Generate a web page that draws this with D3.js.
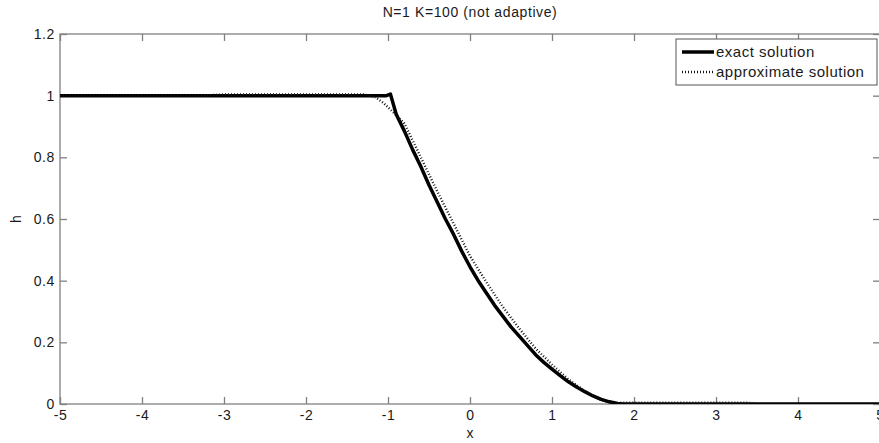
<!DOCTYPE html>
<html>
<head>
<meta charset="utf-8">
<script src="https://cdn.jsdelivr.net/npm/d3@7"></script>
<style>
  body { margin: 0; background: #fff; }
  svg text { font-family: "Liberation Sans", Arial, sans-serif; fill: #1a1a1a; }
</style>
</head>
<body>
<svg id="chart" width="879" height="443"></svg>
<script>
// values
var exactX = [-5, -1.02, -0.97, -0.9, -0.8, -0.7, -0.6, -0.5, -0.4, -0.3, -0.2, -0.1, 0, 0.1, 0.2, 0.3, 0.4, 0.5, 0.6, 0.7, 0.8, 0.9, 1.0, 1.1, 1.2, 1.3, 1.4, 1.5, 1.6, 1.7, 1.8, 1.87, 5];
var exactH = [1, 1, 1.005, 0.94, 0.885, 0.825, 0.77, 0.71, 0.655, 0.6, 0.55, 0.495, 0.445, 0.4, 0.36, 0.32, 0.285, 0.25, 0.22, 0.19, 0.16, 0.135, 0.113, 0.092, 0.072, 0.055, 0.04, 0.026, 0.015, 0.007, 0.002, 0, 0];

var approxX = [-5, -3.3, -3.0, -1.3, -1.15, -1.05, -0.95, -0.8, -0.6, -0.4, -0.2, 0, 0.2, 0.4, 0.6, 0.8, 1.0, 1.2, 1.4, 1.6, 1.75, 1.85, 3.4, 3.5, 5];
var approxH = [1, 1, 1.004, 1.004, 0.995, 0.975, 0.95, 0.91, 0.8, 0.69, 0.585, 0.48, 0.395, 0.315, 0.245, 0.18, 0.128, 0.08, 0.042, 0.012, 0.002, 0.004, 0.004, 0, 0];

var xTicks = [-5, -4, -3, -2, -1, 0, 1, 2, 3, 4, 5];
var yTicks = [0, 0.2, 0.4, 0.6, 0.8, 1, 1.2];

var titleText = "N=1 K=100 (not adaptive)";
var seriesNames = ["exact solution", "approximate solution"];

var margin = {left: 60, right: 880, top: 34, bottom: 404};
var axisColor = "#808080";

var svg = d3.select("#chart");

var x = d3.scaleLinear().domain([-5, 5]).range([margin.left, margin.right]);
var y = d3.scaleLinear().domain([0, 1.2]).range([margin.bottom, margin.top]);

// plain hyphen like matlab, not the unicode minus
function fmt(d) { return String(d); }

// box around the plot
svg.append("rect")
    .attr("x", margin.left)
    .attr("y", margin.top)
    .attr("width", margin.right - margin.left)
    .attr("height", margin.bottom - margin.top)
    .attr("fill", "none")
    .attr("stroke", axisColor)
    .attr("stroke-width", 1.3);

// axes with inward ticks, mirrored on top / right
var xAxis = d3.axisBottom(x).tickValues(xTicks).tickSize(-7).tickPadding(6).tickFormat(fmt);
var gx = svg.append("g").attr("transform", "translate(0," + margin.bottom + ")").call(xAxis);

var xTop = d3.axisTop(x).tickValues(xTicks).tickSize(-7).tickFormat("");
var gxt = svg.append("g").attr("transform", "translate(0," + margin.top + ")").call(xTop);

var yAxis = d3.axisLeft(y).tickValues(yTicks).tickSize(-7).tickPadding(5).tickFormat(fmt);
var gy = svg.append("g").attr("transform", "translate(" + margin.left + ",0)").call(yAxis);

var yRight = d3.axisRight(y).tickValues(yTicks).tickSize(-7).tickFormat("");
var gyr = svg.append("g").attr("transform", "translate(" + margin.right + ",0)").call(yRight);

[gx, gxt, gy, gyr].forEach(function(g) {
    g.select(".domain").remove();
    g.selectAll(".tick line").attr("stroke", axisColor).attr("stroke-width", 1.3);
    g.selectAll(".tick text")
        .attr("font-size", 14)
        .attr("letter-spacing", 0.6)
        .style("fill", "#1a1a1a");
});

// line series
var line = d3.line()
    .x(function(d) { return x(d[0]); })
    .y(function(d) { return y(d[1]); });

svg.append("clipPath").attr("id", "plotClip")
    .append("rect")
    .attr("x", margin.left).attr("y", margin.top - 5)
    .attr("width", margin.right - margin.left).attr("height", margin.bottom - margin.top + 5);

var plot = svg.append("g").attr("clip-path", "url(#plotClip)");

plot.append("path")
    .datum(d3.zip(exactX, exactH))
    .attr("d", line)
    .attr("fill", "none")
    .attr("stroke", "#000")
    .attr("stroke-width", 3.5)
    .attr("stroke-linejoin", "round");

plot.append("path")
    .datum(d3.zip(approxX, approxH))
    .attr("d", line)
    .attr("fill", "none")
    .attr("stroke", "#111")
    .attr("stroke-width", 2.4)
    .attr("stroke-dasharray", "1,2");

// title and labels
svg.append("text")
    .attr("x", (margin.left + margin.right) / 2)
    .attr("y", 17)
    .attr("text-anchor", "middle")
    .attr("font-size", 14)
    .attr("letter-spacing", 0.6)
    .text(titleText);

svg.append("text")
    .attr("x", (margin.left + margin.right) / 2)
    .attr("y", 438)
    .attr("text-anchor", "middle")
    .attr("font-size", 14)
    .text("x");

svg.append("text")
    .attr("transform", "translate(21," + ((margin.top + margin.bottom) / 2) + ") rotate(-90)")
    .attr("text-anchor", "middle")
    .attr("font-size", 14)
    .text("h");

// legend
var legend = svg.append("g").attr("transform", "translate(676,39)");

legend.append("rect")
    .attr("width", 201)
    .attr("height", 46)
    .attr("fill", "#fff")
    .attr("stroke", "#555")
    .attr("stroke-width", 1);

var legendStyles = [
    {stroke: "#000", width: 3.5, dash: null},
    {stroke: "#111", width: 2.4, dash: "1,2"}
];

seriesNames.forEach(function(name, i) {
    var row = legend.append("g").attr("transform", "translate(0," + (13 + i * 20) + ")");
    row.append("line")
        .attr("x1", 6).attr("x2", 38)
        .attr("y1", 0).attr("y2", 0)
        .attr("stroke", legendStyles[i].stroke)
        .attr("stroke-width", legendStyles[i].width)
        .attr("stroke-dasharray", legendStyles[i].dash);
    row.append("text")
        .attr("x", 40)
        .attr("y", 5)
        .attr("font-size", 15)
        .attr("letter-spacing", 0.5)
        .text(name);
});
</script>
</body>
</html>
